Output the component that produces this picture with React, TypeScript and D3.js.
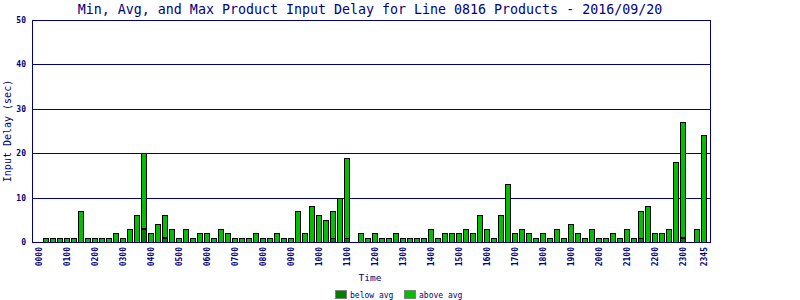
import React from "react";
import * as d3 from "d3";

const slotLabels: string[] = [];
for (let h = 0; h < 24; h++) {
  for (const m of ["00", "15", "30", "45"]) slotLabels.push(String(h).padStart(2, "0") + m);
}

const tickLabels = [
  "0000", "0100", "0200", "0300", "0400", "0500", "0600", "0700", "0800", "0900", "1000", "1100",
  "1200", "1300", "1400", "1500", "1600", "1700", "1800", "1900", "2000", "2100", "2200", "2300", "2345",
];

const maxDelay = [
  0, 1, 1, 1, 1, 1, 7, 1, 1, 1, 1, 2, 1, 3, 6, 20, 2, 4, 6, 3, 1, 3, 1, 2,
  2, 1, 3, 2, 1, 1, 1, 2, 1, 1, 2, 1, 1, 7, 2, 8, 6, 5, 7, 10, 19, 0, 2, 1,
  2, 1, 1, 2, 1, 1, 1, 1, 3, 1, 2, 2, 2, 3, 2, 6, 3, 1, 6, 13, 2, 3, 2, 1,
  2, 1, 3, 1, 4, 2, 1, 3, 1, 1, 2, 1, 3, 1, 7, 8, 2, 2, 3, 18, 27, 0, 3, 24,
];

const belowAvg = [
  0, 0, 0, 0, 0, 0, 0, 0, 0, 0, 0, 0, 0, 0, 0, 3, 0, 0, 1, 0, 0, 0, 0, 0,
  0, 0, 0, 0, 0, 0, 0, 0, 0, 0, 0, 0, 0, 0, 0, 0, 0, 0, 1, 0, 1, 0, 0, 0,
  0, 0, 0, 0, 0, 0, 0, 0, 0, 0, 0, 0, 0, 0, 0, 0, 0, 0, 0, 0, 0, 0, 0, 0,
  0, 0, 0, 0, 0, 0, 0, 0, 0, 0, 0, 0, 0, 0, 1, 0, 0, 0, 0, 0, 1, 0, 0, 0,
];

const aboveAvg = maxDelay.map((v, i) => v - belowAvg[i]);

const yTicks = [0, 10, 20, 30, 40, 50];
const seriesNames = ["below avg", "above avg"];
const seriesColors = ["#008000", "#00c000"];

const NAVY = "#000080";
const FONT = "'DejaVu Sans Mono', monospace";

export default function App() {
  const left = 32, right = 710, top = 20, bottom = 242;
  const x = d3.scaleLinear().domain([0, slotLabels.length]).range([35, 35 + 7 * slotLabels.length]);
  const y = d3.scaleLinear().domain([0, 50]).range([bottom, top]);

  const rows = slotLabels.map((s, i) => ({ slot: s, i, below: belowAvg[i], above: aboveAvg[i] }));
  const stack = d3.stack<any>().keys(["below", "above"]);
  const layers = stack(rows);

  return (
    <div style={{ position: "absolute", left: 0, top: 0 }}>
      <svg width={800} height={300} style={{ display: "block", background: "#fff" }}>
        <text x={370} y={14} textAnchor="middle" fontFamily={FONT} fontSize={13.3} fill={NAVY}>
          Min, Avg, and Max Product Input Delay for Line 0816 Products - 2016/09/20
        </text>
        {yTicks.map((t) => (
          <g key={t}>
            {t > 0 && (
              <line x1={left} x2={right} y1={Math.round(y(t)) + 0.5} y2={Math.round(y(t)) + 0.5} stroke={NAVY} strokeWidth={1} />
            )}
            <text x={26} y={Math.round(y(t)) + 3} textAnchor="end" fontFamily={FONT} fontWeight="bold" fontSize={8} fill={NAVY}>
              {t}
            </text>
          </g>
        ))}
        {layers.map((layer, li) =>
          layer.map((d, i) => {
            const h = y(d[0]) - y(d[1]);
            if (h <= 0) return null;
            return (
              <rect
                key={li + "-" + i}
                x={Math.round(x(i)) + 1.5}
                y={Math.round(y(d[1])) + 0.5}
                width={5}
                height={Math.round(h)}
                fill={seriesColors[li]}
                stroke="#000"
                strokeWidth={1}
              />
            );
          })
        )}
        <line x1={left + 0.5} x2={left + 0.5} y1={top} y2={bottom + 1} stroke={NAVY} strokeWidth={1} />
        <line x1={right + 0.5} x2={right + 0.5} y1={top} y2={bottom + 1} stroke={NAVY} strokeWidth={1} />
        <line x1={left} x2={right + 1} y1={bottom + 0.5} y2={bottom + 0.5} stroke={NAVY} strokeWidth={1} />
        {tickLabels.map((lab) => {
          const i = slotLabels.indexOf(lab);
          const cx = x(i) + 3.5;
          return (
            <text
              key={lab}
              transform={`translate(${cx + 3},247) rotate(-90)`}
              textAnchor="end"
              fontFamily={FONT}
              fontWeight="bold"
              fontSize={8}
              fill={NAVY}
            >
              {lab}
            </text>
          );
        })}
        <text x={370} y={281} textAnchor="middle" fontFamily={FONT} fontSize={9.5} fill={NAVY}>
          Time
        </text>
        <text transform="translate(11,131) rotate(-90)" textAnchor="middle" fontFamily={FONT} fontSize={10} fill={NAVY}>
          Input Delay (sec)
        </text>
        {seriesNames.map((n, k) => {
          const sx = k === 0 ? 335 : 404;
          return (
            <g key={n}>
              <rect x={sx + 0.5} y={290.5} width={11} height={8} fill={seriesColors[k]} stroke="#808080" strokeWidth={1} />
              <text x={sx + 15} y={298} fontFamily={FONT} fontSize={8} fill={NAVY}>
                {n}
              </text>
            </g>
          );
        })}
      </svg>
    </div>
  );
}
